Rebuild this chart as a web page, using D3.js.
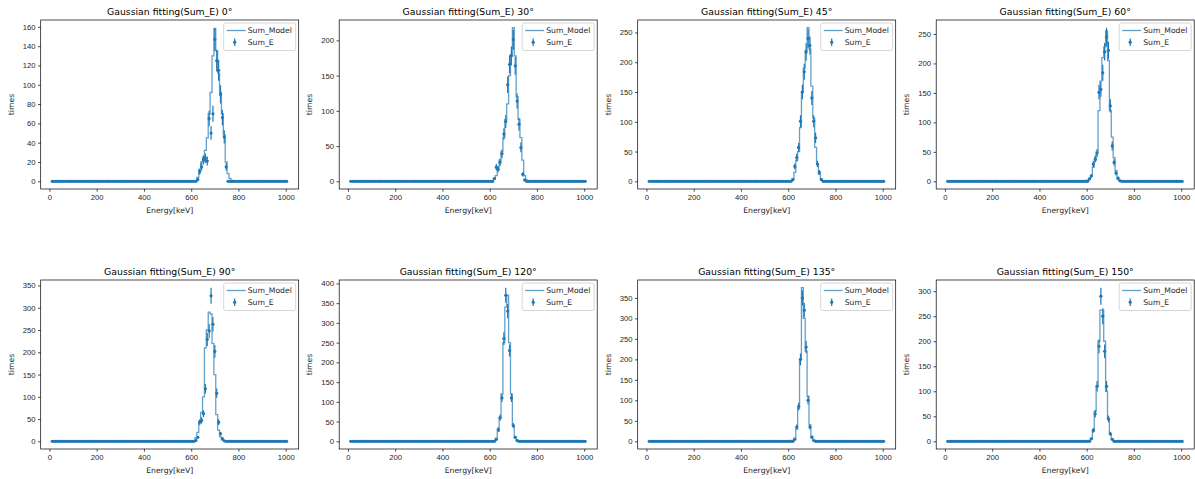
<!DOCTYPE html>
<html>
<head>
<meta charset="utf-8">
<script src="https://cdn.jsdelivr.net/npm/d3@7"></script>
<style>
  body { margin: 0; background: #fff; }
  svg { font-family: "DejaVu Sans", sans-serif; }
</style>
</head>
<body>
<svg id="chart" width="1195" height="479"></svg>
<script>
// scattering angle of each panel
const angles = [0, 30, 45, 60, 90, 120, 135, 150]

// energy bin centres [keV]
const energies = d3.range(12, 1010, 8)

// peak window starts at this bin, every bin outside it is empty
const peakStart = 604

// Sum_Model (step) and Sum_E (points) inside the peak window
const model0 = [0, 0, 0, 4, 12, 20, 25, 32, 45, 70, 92, 130, 158, 135, 112, 92, 70, 48, 20, 8, 3, 1, 0, 0, 0]
const data0 = [0, 0, 0, 2, 10, 15, 22, 24, 21, 65, 50, 70, 147, 125, 115, 90, 66, 46, 15, 0, 0, 0, 0, 0, 0]
const model30 = [0, 0, 3, 8, 20, 30, 42, 62, 88, 110, 150, 180, 218, 178, 120, 88, 62, 30, 8, 2, 0, 0, 0, 0, 0]
const data30 = [0, 0, 4, 20, 17, 27, 39, 67, 85, 137, 166, 178, 201, 164, 114, 81, 48, 10, 2, 0, 0, 0, 0, 0, 0]
const model45 = [0, 0, 4, 15, 35, 50, 90, 150, 190, 220, 258, 222, 160, 106, 57, 28, 12, 4, 1, 0, 0, 0, 0, 0, 0]
const data45 = [0, 0, 3, 25, 40, 57, 101, 150, 184, 217, 240, 228, 140, 101, 73, 29, 15, 3, 0, 0, 0, 0, 0, 0, 0]
const model60 = [2, 5, 10, 24, 35, 50, 120, 170, 210, 228, 255, 205, 120, 75, 40, 18, 7, 2, 0, 0, 0, 0, 0, 0, 0]
const data60 = [0, 4, 9, 29, 38, 48, 151, 156, 184, 220, 245, 222, 128, 60, 32, 14, 5, 1, 0, 0, 0, 0, 0, 0, 0]
const model90 = [0, 1, 8, 20, 45, 65, 100, 210, 250, 290, 286, 220, 150, 60, 25, 10, 3, 1, 0, 0, 0, 0, 0, 0, 0]
const data90 = [0, 0, 2, 9, 43, 47, 62, 118, 229, 248, 327, 263, 202, 108, 43, 17, 6, 1, 0, 0, 0, 0, 0, 0, 0]
const model120 = [0, 0, 2, 8, 25, 60, 120, 250, 340, 370, 250, 120, 40, 12, 3, 0, 0, 0, 0, 0, 0, 0, 0, 0, 0]
const data120 = [0, 0, 0, 5, 30, 60, 110, 260, 370, 330, 230, 110, 40, 10, 2, 0, 0, 0, 0, 0, 0, 0, 0, 0, 0]
const model135 = [0, 0, 2, 8, 30, 80, 200, 375, 300, 220, 110, 40, 12, 3, 0, 0, 0, 0, 0, 0, 0, 0, 0, 0, 0]
const data135 = [0, 0, 0, 5, 35, 85, 200, 350, 320, 230, 100, 35, 10, 2, 0, 0, 0, 0, 0, 0, 0, 0, 0, 0, 0]
const model150 = [0, 2, 6, 20, 60, 110, 200, 262, 262, 200, 100, 45, 15, 5, 1, 0, 0, 0, 0, 0, 0, 0, 0, 0, 0]
const data150 = [0, 0, 5, 22, 55, 110, 190, 290, 250, 180, 110, 45, 15, 4, 0, 0, 0, 0, 0, 0, 0, 0, 0, 0, 0]

const models = [model0, model30, model45, model60, model90, model120, model135, model150]
const datas = [data0, data30, data45, data60, data90, data120, data135, data150]

// tick labels
const xTicks = [0, 200, 400, 600, 800, 1000]
const yTickStep = [20, 50, 50, 50, 50, 50, 50, 50]

const blue = '#1f77b4'
const svg = d3.select('#chart')

// expand a peak window to the full energy range
const fullSeries = (peak) => energies.map(e => {
  const i = Math.round((e - peakStart) / 8)
  return (i >= 0 && i < peak.length) ? peak[i] : 0
})

const axW = 258, axH = 169

angles.forEach((angle, p) => {
  const col = p % 4, row = Math.floor(p / 4)
  const left = 40.7 + col * 298.5
  const top = 20 + row * 260

  const model = fullSeries(models[p])
  const data = fullSeries(datas[p])
  const pts = energies.map((e, i) => ({ e, v: data[i], err: Math.sqrt(data[i]) }))

  // autoscale like matplotlib: 5% margin
  const ymax = Math.max(d3.max(model), d3.max(pts, d => d.v + d.err))
  const x = d3.scaleLinear().domain([-37, 1055]).range([left, left + axW])
  const y = d3.scaleLinear().domain([-0.05 * ymax, 1.05 * ymax]).range([top + axH, top])

  const g = svg.append('g')

  // clip to the axes box
  g.append('clipPath').attr('id', 'clip' + p)
    .append('rect').attr('x', left).attr('y', top).attr('width', axW).attr('height', axH)
  const plot = g.append('g').attr('clip-path', `url(#clip${p})`)

  // Sum_Model step line
  plot.append('path')
    .datum(model)
    .attr('fill', 'none')
    .attr('stroke', blue)
    .attr('stroke-opacity', 0.7)
    .attr('stroke-width', 1.3)
    .attr('d', d3.line().x((d, i) => x(energies[i])).y(d => y(d)).curve(d3.curveStep))

  // Sum_E error bars
  plot.selectAll('line.err').data(pts.filter(d => d.v > 0)).join('line')
    .attr('x1', d => x(d.e)).attr('x2', d => x(d.e))
    .attr('y1', d => y(d.v - d.err)).attr('y2', d => y(d.v + d.err))
    .attr('stroke', blue).attr('stroke-width', 1.2)

  // Sum_E markers
  plot.selectAll('circle').data(pts).join('circle')
    .attr('cx', d => x(d.e)).attr('cy', d => y(d.v))
    .attr('r', 1.6).attr('fill', blue)

  // axes
  const xAxis = g.append('g').attr('transform', `translate(0,${top + axH})`)
    .call(d3.axisBottom(x).tickValues(xTicks).tickFormat(d3.format('d')).tickSize(2.7).tickPadding(2.5))
  const yTicks = d3.range(0, ymax * 1.05, yTickStep[p])
  const yAxis = g.append('g').attr('transform', `translate(${left},0)`)
    .call(d3.axisLeft(y).tickValues(yTicks).tickFormat(d3.format('d')).tickSize(2.7).tickPadding(2.5))
  ;[xAxis, yAxis].forEach(a => {
    a.select('.domain').remove()
    a.selectAll('line').attr('stroke', '#000').attr('stroke-width', 0.7)
    a.selectAll('text').attr('fill', '#262626').style('font-size', '7.7px')
  })

  // spines
  g.append('rect').attr('x', left).attr('y', top).attr('width', axW).attr('height', axH)
    .attr('fill', 'none').attr('stroke', '#000').attr('stroke-width', 0.7)

  // title and labels
  g.append('text').attr('x', left + axW / 2).attr('y', top - 5)
    .attr('text-anchor', 'middle').style('font-size', '9.3px').attr('fill', '#000')
    .text(`Gaussian fitting(Sum_E) ${angle}°`)
  g.append('text').attr('x', left + axW / 2).attr('y', top + axH + 24)
    .attr('text-anchor', 'middle').style('font-size', '7.7px').attr('fill', '#262626')
    .text('Energy[keV]')
  g.append('text')
    .attr('transform', `translate(${left - 27},${top + axH / 2}) rotate(-90)`)
    .attr('text-anchor', 'middle').style('font-size', '7.7px').attr('fill', '#262626')
    .text('times')

  // legend
  const lw = 72, lh = 27.5
  const lx = left + axW - 3 - lw, ly = top + 3
  const leg = g.append('g')
  leg.append('rect').attr('x', lx).attr('y', ly).attr('width', lw).attr('height', lh)
    .attr('rx', 2).attr('fill', 'rgba(255,255,255,0.8)').attr('stroke', '#cccccc').attr('stroke-width', 0.8)
  leg.append('line').attr('x1', lx + 3).attr('x2', lx + 22).attr('y1', ly + 7.5).attr('y2', ly + 7.5)
    .attr('stroke', blue).attr('stroke-opacity', 0.7).attr('stroke-width', 1.3)
  leg.append('line').attr('x1', lx + 11).attr('x2', lx + 11).attr('y1', ly + 15.5).attr('y2', ly + 23)
    .attr('stroke', blue).attr('stroke-width', 1.2)
  leg.append('circle').attr('cx', lx + 11).attr('cy', ly + 19.2).attr('r', 1.6).attr('fill', blue)
  leg.append('text').attr('x', lx + 24).attr('y', ly + 7.5).attr('dy', '0.35em')
    .style('font-size', '7.7px').attr('fill', '#262626').text('Sum_Model')
  leg.append('text').attr('x', lx + 24).attr('y', ly + 19.2).attr('dy', '0.35em')
    .style('font-size', '7.7px').attr('fill', '#262626').text('Sum_E')
})
</script>
</body>
</html>
